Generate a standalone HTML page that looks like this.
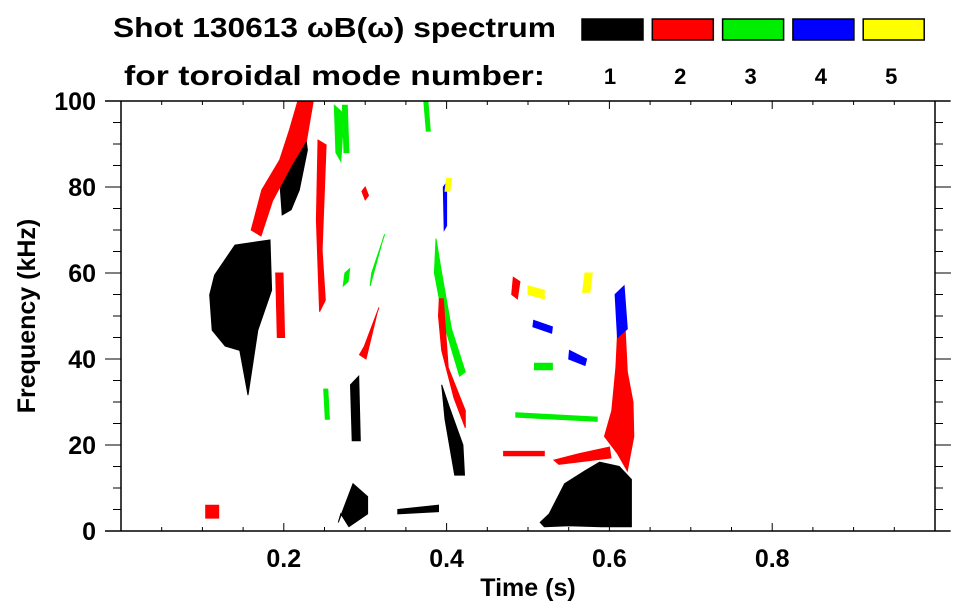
<!DOCTYPE html>
<html><head><meta charset="utf-8"><style>
body{margin:0;background:#fff;}
svg{display:block;font-family:"Liberation Sans",sans-serif;font-weight:bold;}
</style></head><body>
<svg id="chart" width="963" height="615">
<g id="legend">
<text x="113" y="37" font-size="28" textLength="443" lengthAdjust="spacingAndGlyphs">Shot 130613 ωB(ω) spectrum</text>
<text x="124" y="85" font-size="28" textLength="421" lengthAdjust="spacingAndGlyphs">for toroidal mode number:</text>
</g>
<g id="marks"></g>
<g id="axes"></g>
</svg>
<script>
const modeColors=["#000000","#ff0000","#00ee00","#0000ff","#ffff00"];
const modeLabels=["1","2","3","4","5"];
const xTicks=[0.2,0.4,0.6,0.8];
const yTicks=[0,20,40,60,80,100];
// Blobs: polygon outlines in (time s, freq kHz), one mode each
const blobMode=[1,1,2,2,3,3,3,2,1,1,1,3,1,3,4,2,1,2,2,2,2,4,4,4,3,3,5,5,5,2,2,3,2,3];
const blobT=[
[.109,.115,.140,.183,.185,.168,.156,.146,.128,.112],
[.198,.195,.209,.219,.225,.229,.219,.209],
[.160,.173,.195,.207,.217,.236,.228,.209,.186,.172],
[.242,.252,.247,.251,.244,.240],
[.262,.274,.270,.264],
[.308,.324,.322,.306],
[.275,.281,.279,.273],
[.293,.299,.317,.315,.301],
[.267,.285,.303,.303,.280,.270],
[.282,.292,.294,.284],
[.340,.390,.390,.340],
[.249,.254,.256,.251],
[.394,.403,.420,.422,.410,.398],
[.387,.393,.406,.423,.416,.397,.385],
[.396,.400,.400,.397],
[.391,.396,.402,.423,.423,.409,.394,.390],
[.515,.526,.545,.570,.588,.612,.627,.627,.590,.550,.520],
[.612,.619,.622,.629,.630,.622,.610,.594,.603,.608],
[.532,.563,.600,.602,.538],
[.482,.490,.487,.480],
[.296,.300,.304,.300],
[.507,.530,.529,.506],
[.551,.572,.570,.550],
[.607,.618,.622,.610],
[.508,.530,.530,.508],
[.485,.585,.585,.485],
[.570,.579,.576,.567],
[.500,.520,.520,.500],
[.400,.406,.404,.398],
[.470,.520,.520,.470],
[.104,.120,.120,.104],
[.272,.278,.280,.274],
[.190,.199,.201,.192],
[.372,.377,.380,.375]];
const blobF=[
[54.9,59.5,66.5,67.7,56,46.7,31.6,42,43,46.7],
[73.5,81.6,86.3,91.6,94.4,88.6,79.3,74.7],
[70,79.3,86.3,93.3,99.8,99.8,90.9,84.9,76.7,68.6],
[90.9,89.8,65.3,53.7,51,72.3],
[99,97,86,88],
[60,69,68,57],
[60,61,58,57],
[41,43,52,51,40],
[2,11,8,4,1,4],
[34,36,21,21],
[5,6,4.5,4],
[33,33,26,26],
[34,29,20,13,13,26],
[68,61,47,37,36,48,60],
[80,81,71,70],
[54,54,38,28,24,31,42,50],
[2,4,11,14,16,15,12,1,1,1.2,1],
[54,48,37,30,22,14,18,22,28,38],
[16.5,18,19.5,17,15.5],
[59,58,54,55],
[79,80,78,77],
[49,47.5,46,47.5],
[42,40,38.5,40],
[55,57,47,45],
[39,39,37.5,37.5],
[27.5,26.5,25.5,26.5],
[60,60,55.5,55.5],
[57,56,54,55],
[82,82,79,79],
[18.5,18.5,17.5,17.5],
[6,6,3,3],
[99,99,88,88],
[60,60,45,45],
[100,100,93,93]];
const x0=121,x1=935,y0=531,y1=101;
const X=t=>x0+(t-0)/(1-0)*(x1-x0);
const Y=f=>y0-(f-0)/(100-0)*(y0-y1);
const NS="http://www.w3.org/2000/svg";
const marks=document.getElementById('marks'),axes=document.getElementById('axes'),legend=document.getElementById('legend');
function mk(tag,attrs,parent){const e=document.createElementNS(NS,tag);for(const k in attrs)e.setAttribute(k,attrs[k]);parent.appendChild(e);return e;}
blobT.forEach((ts,i)=>{
 const pts=ts.map((t,j)=>X(t).toFixed(1)+','+Y(blobF[i][j]).toFixed(1)).join(' ');
 const c=modeColors[blobMode[i]-1];
 const p=mk('polygon',{points:pts,fill:c,stroke:c,'stroke-width':1},marks);
 
 
});
modeLabels.forEach((m,i)=>{
 const bx=582+i*70.3;
 const r=mk('rect',{x:bx,y:19,width:61,height:21,fill:modeColors[i],stroke:'#000','stroke-width':1.5},legend);
 
 
 const tx=mk('text',{x:bx+28,y:84,'font-size':22,'text-anchor':'middle'},legend);
 tx.textContent=m;
 
 
});
[[105,y1,950,y1],[105,y0,950,y0],[x0,y1,x0,y0],[x1,y1,x1,y0]].forEach(l=>{
 const e=mk('line',{x1:l[0],y1:l[1],x2:l[2],y2:l[3],stroke:'#000','stroke-width':1.5},axes);
 
 
});
for(let t=0.05;t<1;t+=0.05){
 const major=Math.abs(t*5-Math.round(t*5))<1e-6;const L=major?8:4;
 mk('line',{x1:X(t),y1:y0,x2:X(t),y2:y0-L,stroke:'#000'},axes);
 mk('line',{x1:X(t),y1:y1,x2:X(t),y2:y1+L,stroke:'#000'},axes);
}
for(let f=0;f<=100;f+=5){
 const major=f%20===0;const L=major?16:8;
 mk('line',{x1:x0,y1:Y(f),x2:x0-L,y2:Y(f),stroke:'#000'},axes);
 mk('line',{x1:x1,y1:Y(f),x2:x1+L,y2:Y(f),stroke:'#000'},axes);
}
xTicks.forEach(t=>{
 const e=mk('text',{x:X(t),y:567,'font-size':25,'text-anchor':'middle'},axes);
 e.textContent=t.toFixed(1);
 
 
});
yTicks.forEach(f=>{
 const e=mk('text',{x:96,y:Y(f)+9,'font-size':25,'text-anchor':'end'},axes);
 e.textContent=f;
 
 
});
const xt=mk('text',{x:528,y:596,'font-size':25,'text-anchor':'middle'},axes);
xt.textContent='Time (s)';


const yt=mk('text',{x:0,y:0,'font-size':25,'text-anchor':'middle',transform:'translate(35,316) rotate(-90)'},axes);
yt.textContent='Frequency (kHz)';


</script>
</body></html>
